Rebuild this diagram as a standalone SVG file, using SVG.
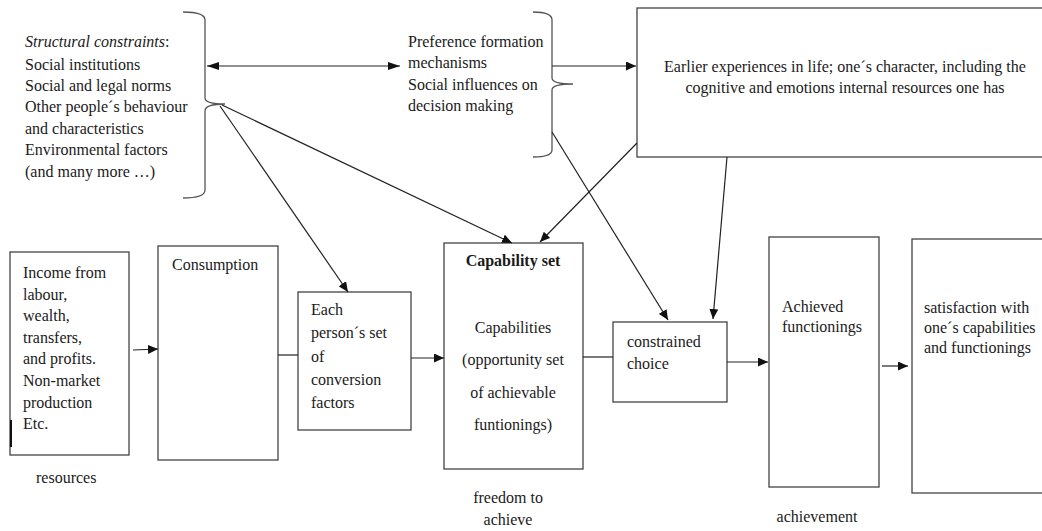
<svg xmlns="http://www.w3.org/2000/svg" width="1042" height="531" viewBox="0 0 1042 531">
<defs>
<marker id="ah" viewBox="0 0 10 9" refX="10" refY="4.5" markerWidth="10" markerHeight="9" markerUnits="userSpaceOnUse" orient="auto-start-reverse">
<path d="M0,0 L10,4.5 L0,9 z" fill="#111"/>
</marker>
<marker id="ah2" viewBox="0 0 12 8" refX="12" refY="4" markerWidth="12" markerHeight="8" markerUnits="userSpaceOnUse" orient="auto-start-reverse">
<path d="M0,0 L12,4 L0,8 z" fill="#111"/>
</marker>
</defs>
<style>
text{font-family:"Liberation Serif","Times New Roman",serif;font-size:16px;fill:#1a1a1a}
.box{fill:#fff;stroke:#444;stroke-width:1.3}
.brace{fill:none;stroke:#555;stroke-width:1.3}
.c{fill:none;stroke:#222;stroke-width:1.2}
.a{marker-end:url(#ah)}
.a2{marker-start:url(#ah2);marker-end:url(#ah2)}
.mid{text-anchor:middle}
</style>
<rect width="1042" height="531" fill="#fff"/>

<g id="structural-constraints">
<text x="25" y="47"><tspan font-style="italic">Structural constraints</tspan>:</text>
<text x="25" y="70">Social institutions</text>
<text x="25" y="91">Social and legal norms</text>
<text x="25" y="112">Other people´s behaviour</text>
<text x="25" y="134">and characteristics</text>
<text x="25" y="155">Environmental factors</text>
<text x="25" y="177">(and many more …)</text>
<path class="brace" d="M183,12 Q205,12 205,20 L205,98 Q205,104 225,104 Q205,104 205,111 L205,190 Q205,198 183,198"/>
</g>

<g id="preference-formation">
<text x="408" y="47">Preference formation</text>
<text x="408" y="68">mechanisms</text>
<text x="408" y="90">Social influences on</text>
<text x="408" y="111">decision making</text>
<path class="brace" d="M533,12 Q552,12 552,20 L552,78 Q552,84 573,84 Q552,84 552,90 L552,150 Q552,157 533,157"/>
</g>

<g id="earlier-experiences">
<rect class="box" x="637" y="8" width="412" height="149"/>
<text class="mid" x="845" y="72">Earlier experiences in life; one´s character, including the</text>
<text class="mid" x="845" y="93">cognitive and emotions internal resources one has</text>
</g>

<g id="income">
<rect class="box" x="10" y="252" width="119" height="203"/>
<line x1="11" y1="420" x2="11" y2="447" stroke="#111" stroke-width="2"/>
<text x="23" y="278">Income from</text>
<text x="23" y="300">labour,</text>
<text x="23" y="321">wealth,</text>
<text x="23" y="343">transfers,</text>
<text x="23" y="364">and profits.</text>
<text x="23" y="386">Non-market</text>
<text x="23" y="408">production</text>
<text x="23" y="429">Etc.</text>
<text x="36" y="483">resources</text>
</g>

<g id="consumption">
<rect class="box" x="158" y="246" width="120" height="214"/>
<text x="172" y="270">Consumption</text>
</g>

<g id="conversion-factors">
<rect class="box" x="298" y="292" width="113" height="138"/>
<text x="311" y="315">Each</text>
<text x="311" y="338">person´s set</text>
<text x="311" y="362">of</text>
<text x="311" y="385">conversion</text>
<text x="311" y="408">factors</text>
</g>

<g id="capability-set">
<rect class="box" x="444" y="243" width="139" height="226"/>
<text class="mid" x="513" y="266" font-weight="bold">Capability set</text>
<text class="mid" x="513" y="333">Capabilities</text>
<text class="mid" x="513" y="365">(opportunity set</text>
<text class="mid" x="513" y="398">of achievable</text>
<text class="mid" x="513" y="430">funtionings)</text>
<text class="mid" x="508" y="503">freedom to</text>
<text class="mid" x="508" y="525">achieve</text>
</g>

<g id="constrained-choice">
<rect class="box" x="613" y="322" width="114" height="80"/>
<text x="627" y="347">constrained</text>
<text x="627" y="369">choice</text>
</g>

<g id="achieved-functionings">
<rect class="box" x="769" y="237" width="110" height="250"/>
<text x="782" y="312">Achieved</text>
<text x="782" y="332">functionings</text>
<text class="mid" x="817" y="522">achievement</text>
</g>

<g id="satisfaction">
<rect class="box" x="912" y="239" width="137" height="254"/>
<text x="924" y="313">satisfaction with</text>
<text x="924" y="333">one´s capabilities</text>
<text x="924" y="353">and functionings</text>
</g>

<g id="connectors">
<line class="c a2" x1="207" y1="66" x2="400" y2="66"/>
<line class="c a" x1="552" y1="66" x2="636" y2="66"/>
<line class="c a" x1="222" y1="105" x2="512" y2="243"/>
<line class="c a" x1="220" y1="106" x2="348" y2="292"/>
<line class="c a" x1="637" y1="143" x2="540" y2="242"/>
<line class="c a" x1="552" y1="132" x2="668" y2="320"/>
<line class="c a" x1="727" y1="157" x2="713" y2="319"/>
<line class="c a" x1="133" y1="350" x2="158" y2="349"/>
<line class="c" x1="278" y1="355" x2="298" y2="355"/>
<line class="c a" x1="411" y1="358" x2="444" y2="358"/>
<line class="c" x1="583" y1="357" x2="613" y2="357"/>
<line class="c a" x1="727" y1="362" x2="768" y2="362"/>
<line class="c a" x1="882" y1="366" x2="908" y2="366"/>
</g>
</svg>
